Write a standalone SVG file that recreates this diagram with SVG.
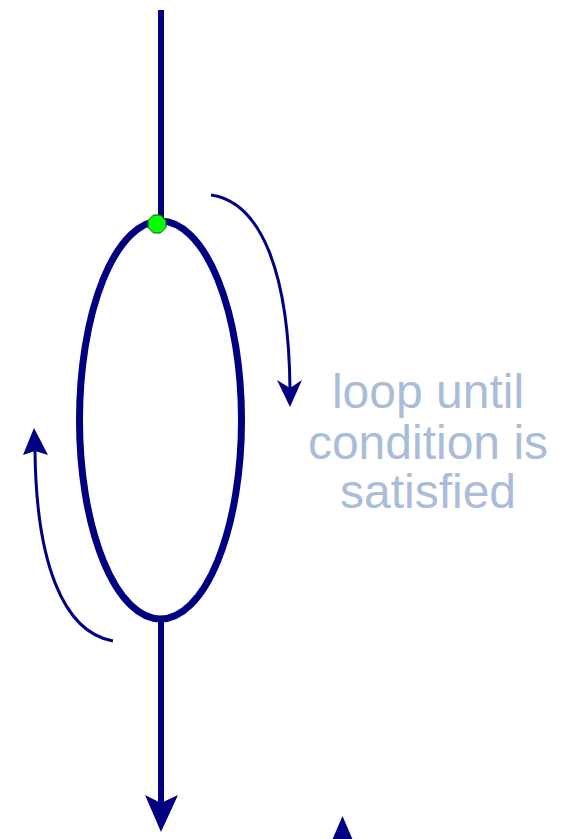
<svg xmlns="http://www.w3.org/2000/svg" width="566" height="839" viewBox="0 0 566 839">
<style>
.thick{fill:none;stroke:#000080;stroke-width:6}
.thin{fill:none;stroke:#000080;stroke-width:3}
.head{fill:#000080}
.lbl{font-family:"Liberation Sans",Arial,sans-serif;font-size:48px;fill:#A9BCD8;text-anchor:middle}
</style>
<rect width="566" height="839" fill="#ffffff"/>
<g id="connectors">
<line class="thick" x1="161" y1="10" x2="161" y2="222"/>
<line class="thick" x1="161" y1="620" x2="161" y2="805"/>
<polygon class="head" points="161,832 145,795 161,803 178,795"/>
<path class="thin" d="M211,195 C260,202 289,270 290,390"/>
<polygon class="head" points="290,407 277,380 290,388 302,380"/>
<path class="thin" d="M113,641 C62,632 36,560 35,450"/>
<polygon class="head" points="34,428 23,455 35,451 48,455"/>
<polygon class="head" points="342.5,816 358,852 327,852"/>
</g>
<g id="loop">
<ellipse cx="160.5" cy="420" rx="81" ry="199" fill="none" stroke="#000080" stroke-width="7"/>
</g>
<g id="start-dot">
<polygon points="153.5,215 160.5,215 166,220.5 166,227.5 160.5,233 153.5,233 148,227.5 148,220.5" fill="#00ff00" stroke="#1a4d1a" stroke-width="1"/>
</g>
<g id="label">
<text class="lbl" x="428" y="408">loop until</text>
<text class="lbl" x="428" y="459">condition is</text>
<text class="lbl" x="428" y="508">satisfied</text>
</g>
</svg>
